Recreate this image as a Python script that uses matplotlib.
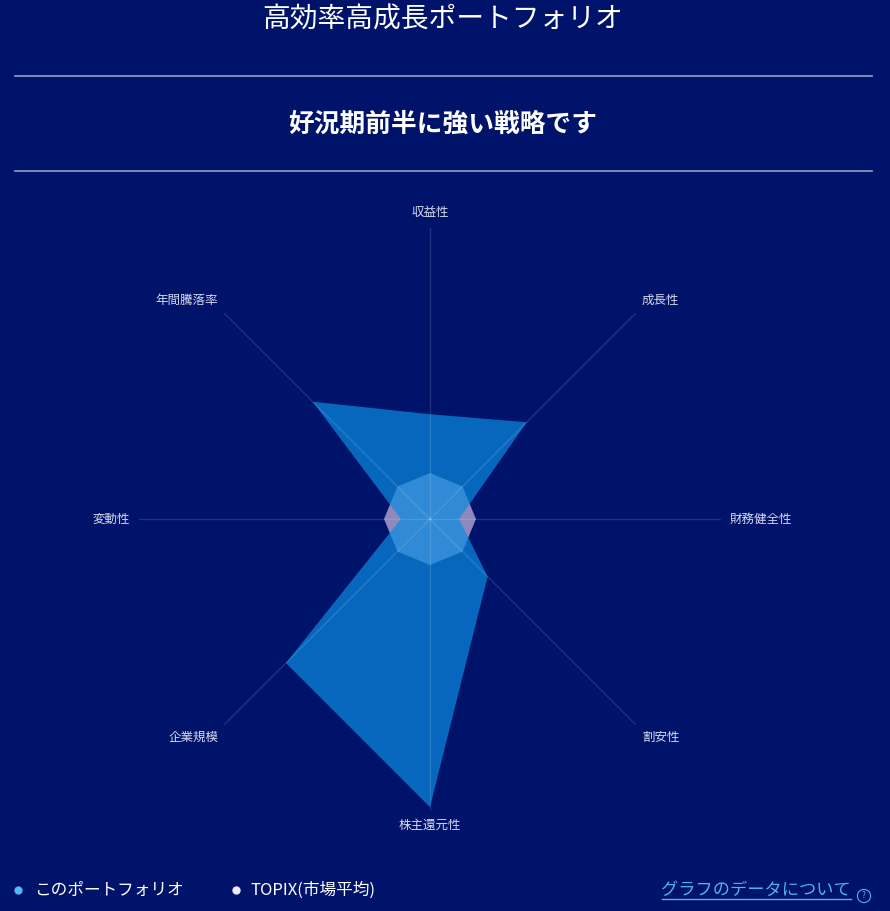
import numpy as np
import matplotlib
matplotlib.use("Agg")
import matplotlib.pyplot as plt
from matplotlib.lines import Line2D

plt.rcParams['font.family'] = ['Noto Sans CJK JP', 'DejaVu Sans']

# radar data (scale 0..1, outer ring = 1)
categories = ['収益性', '成長性', '財務健全性', '割安性', '株主還元性', '企業規模', '変動性', '年間騰落率']
portfolio = [0.36, 0.47, 0.10, 0.28, 0.99, 0.70, 0.10, 0.57]
topix = [0.158, 0.158, 0.158, 0.158, 0.158, 0.158, 0.158, 0.158]

title = '高効率高成長ポートフォリオ'
subtitle = '好況期前半に強い戦略です'
legend_labels = ['このポートフォリオ', 'TOPIX(市場平均)']
link_text = 'グラフのデータについて'

bg = '#00136a'
W, H = 890, 911

fig = plt.figure(figsize=(W / 100, H / 100), dpi=100)
fig.patch.set_facecolor(bg)

# polar axes: centre (430, 519) px, radius 291 px
cx, cy, R = 430, 519, 291
ax = fig.add_axes([(cx - R) / W, (H - cy - R) / H, 2 * R / W, 2 * R / H], projection='polar')
ax.set_facecolor('none')
ax.set_theta_offset(np.pi / 2)
ax.set_theta_direction(-1)
ax.set_ylim(0, 1)
ax.spines['polar'].set_visible(False)

theta = np.linspace(0, 2 * np.pi, len(categories), endpoint=False)
ax.set_xticks(theta)
ax.set_xticklabels([])
ax.set_yticks([])
ax.set_axisbelow(False)
ax.xaxis.grid(True, color='white', alpha=0.13, lw=1.0)
ax.yaxis.grid(False)

th_closed = np.append(theta, theta[0])
ax.fill(th_closed, topix + topix[:1], color='#f0d8f6', alpha=0.6, lw=0, zorder=1)
ax.fill(th_closed, portfolio + portfolio[:1], color='#0a8ce0', alpha=0.7, lw=0, zorder=1.5)

for t, lab in zip(theta, categories):
    s, c = np.sin(t), np.cos(t)
    ha = 'center' if abs(s) < 0.1 else ('left' if s > 0 else 'right')
    va = 'center' if abs(c) < 0.1 else ('bottom' if c > 0 else 'top')
    ax.text(t, 1.03, lab, ha=ha, va=va, fontsize=9, color='#d6d9ec', zorder=5)

# header
fig.text(443 / W, 1 - 20 / H, title, ha='center', va='center', fontsize=20, color='white')
fig.text(443 / W, 1 - 124 / H, subtitle, ha='center', va='center', fontsize=18.5, color='white',
         fontweight='bold')
for yy in (76, 171):
    fig.add_artist(Line2D([15 / W, 872 / W], [1 - yy / H, 1 - yy / H], color='#8a91bd', lw=1.3))

# legend
ly = 1 - 890 / H
fig.add_artist(Line2D([18 / W], [ly], marker='o', ms=5, color='#4fb8f5', lw=0))
fig.text(34 / W, ly, legend_labels[0], ha='left', va='center', fontsize=12, color='white')
fig.add_artist(Line2D([236 / W], [ly], marker='o', ms=5, color='#eeeaf6', lw=0))
fig.text(250 / W, ly, legend_labels[1], ha='left', va='center', fontsize=12, color='white')

link_col = '#4fb3f0'
fig.text(851 / W, ly, link_text, ha='right', va='center', fontsize=12.4, color=link_col)
fig.add_artist(Line2D([662 / W, 851 / W], [1 - 899 / H, 1 - 899 / H], color=link_col, lw=1))
fig.text(864 / W, 1 - 896 / H, '?', ha='center', va='center', fontsize=6, color=link_col,
         bbox=dict(boxstyle='circle,pad=0.25', fc='none', ec=link_col, lw=0.8))

fig.savefig('out.png', dpi=100, facecolor=bg)
